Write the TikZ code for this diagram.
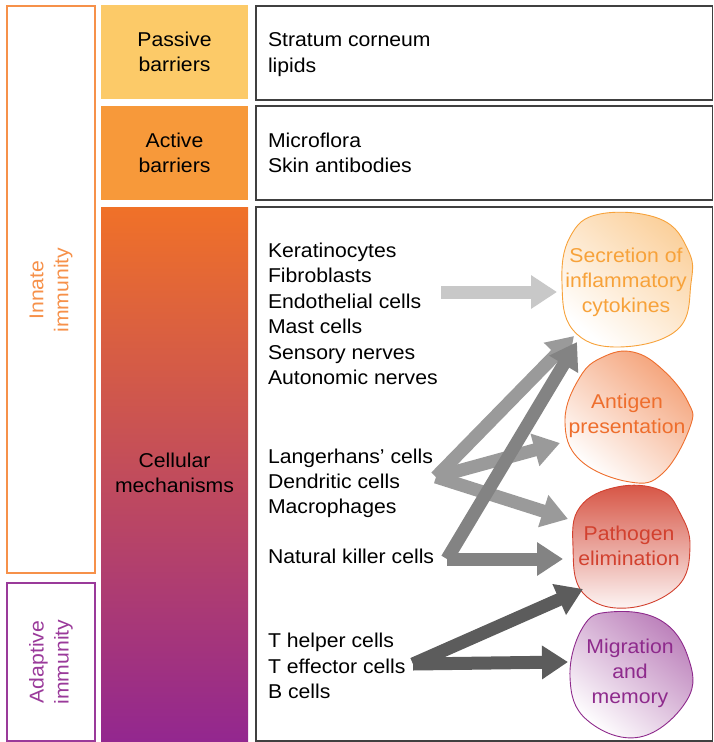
\documentclass[tikz,border=0pt]{standalone}
\usepackage{fontspec}
\setmainfont{Liberation Sans}[FakeStretch=1.06]
\usepackage{tikz}
\usetikzlibrary{arrows.meta}

\definecolor{passive}{HTML}{FCCA68}
\definecolor{active}{HTML}{F7993A}
\definecolor{celltop}{HTML}{F07128}
\definecolor{cellmid}{HTML}{C5506B}
\definecolor{cellbot}{HTML}{93278F}
\definecolor{innate}{HTML}{F6914A}
\definecolor{adaptive}{HTML}{9A3A9A}
\definecolor{secr}{HTML}{F7A23A}
\definecolor{anti}{HTML}{EE6E2D}
\definecolor{patho}{HTML}{D2412F}
\definecolor{migr}{HTML}{8E2A8C}
\definecolor{arrowA}{HTML}{C8C8C8}
\definecolor{arrowB}{HTML}{9A9A9A}
\definecolor{arrowC}{HTML}{838383}
\definecolor{arrowD}{HTML}{5C5C5C}

\begin{document}
\begin{tikzpicture}[x=1pt, y=-1pt,
  every node/.style={font=\fontsize{20}{25}\selectfont, inner sep=0pt, outer sep=0pt},
  item/.style={anchor=base west},
  blobtext/.style={align=center},
  itembox/.style={draw=black!75, line width=1.3pt},
  fatarrow/.style={line width=13pt, -{Triangle[length=26pt,width=32pt]}}]
\useasboundingbox (0,0) rectangle (714,742);

% left column
\draw[innate, line width=1.3pt] (7,6) rectangle (95,573);
\draw[adaptive, line width=1.3pt] (7,583) rectangle (95,741);
\node[rotate=90, align=center, text=innate] (inn) at (51,290) {Innate\\immunity};
\node[rotate=90, align=center, text=adaptive] (adp) at (51,662) {Adaptive\\immunity};

% middle column
\node[fill=passive, minimum width=147pt, minimum height=94pt, align=center] (pas) at (174.5,52) {Passive\\barriers};
\node[fill=active, minimum width=147pt, minimum height=94pt, align=center] (act) at (174.5,153) {Active\\barriers};
\shade[top color=celltop, middle color=cellmid, bottom color=cellbot] (101,207) rectangle (248,741);
\node[align=center] (cel) at (174.5,473) {Cellular\\mechanisms};

% right column
\draw[itembox] (256,6) rectangle (712.5,100);
\draw[itembox] (256,106) rectangle (712.5,200);
\draw[itembox] (256,207) rectangle (712.5,741);

\node[item] (strat) at (268,46) {Stratum corneum};
\node[item] (lip) at (268,72) {lipids};
\node[item] (micro) at (268,147) {Microflora};
\node[item] (skin) at (268,172) {Skin antibodies};

\node[item] (ker) at (268,257) {Keratinocytes};
\node[item] (fib) at (268,282.5) {Fibroblasts};
\node[item] (endo) at (268,308) {Endothelial cells};
\node[item] (mast) at (268,333.5) {Mast cells};
\node[item] (sens) at (268,359) {Sensory nerves};
\node[item] (auto) at (268,384.5) {Autonomic nerves};

\node[item] (lan) at (268,463) {Langerhans’ cells};
\node[item] (den) at (268,488) {Dendritic cells};
\node[item] (mac) at (268,513) {Macrophages};
\node[item] (nk) at (268,563) {Natural killer cells};

\node[item] (th) at (268,647) {T helper cells};
\node[item] (te) at (268,673) {T effector cells};
\node[item] (bc) at (268,698) {B cells};

% outcomes
\shade[draw=secr, line width=0.9pt, top color=secr!50, bottom color=white, shading angle=-40]
  plot[smooth cycle, tension=0.7] coordinates {(600,214) (660,219) (688,250) (691,283) (677,330) (617,347) (573,330) (562,283) (570,237)};
\shade[draw=anti, line width=0.9pt, top color=anti!65, bottom color=white, shading angle=-40]
  plot[smooth cycle, tension=0.7] coordinates {(633,352) (663,370) (688,402) (690,427) (663,473) (630,482) (580,460) (565,420) (580,377) (603,357)};
\shade[draw=patho, line width=0.9pt, top color=patho!90, bottom color=patho!5]
  plot[smooth cycle, tension=0.7] coordinates {(617,487) (660,490) (680,513) (690,547) (677,587) (627,608) (583,593) (573,547) (580,507)};
\shade[draw=migr, line width=0.9pt, top color=migr!60, bottom color=white, shading angle=-40]
  plot[smooth cycle, tension=0.7] coordinates {(610,612) (660,620) (688,657) (687,700) (640,737) (587,720) (570,677) (583,627)};

\node[blobtext, text=secr] (secr) at (626,282) {Secretion of\\inflammatory\\cytokines};
\node[blobtext, text=anti] (anti) at (627,416) {Antigen\\presentation};
\node[blobtext, text=patho] (patho) at (629,546) {Pathogen\\elimination};
\node[blobtext, text=migr] (migr) at (630,673) {Migration\\and\\memory};

% arrows
\coordinate (kerOut) at (441,292);
\coordinate (secrIn) at (557,292);
\coordinate (lanOut) at (436,477);
\coordinate (secrTipB) at (574,336);
\coordinate (antiIn) at (560,443);
\coordinate (pathInB) at (568,519);
\coordinate (nkOut) at (447,559);
\coordinate (secrTipC) at (577,342);
\coordinate (pathInC) at (563,559);
\coordinate (tOut) at (413,664);
\coordinate (pathInD) at (583,589);
\coordinate (migrIn) at (568,662);

\draw[fatarrow, arrowA] (kerOut) -- (secrIn);
\draw[fatarrow, arrowB] (lanOut) -- (secrTipB);
\draw[fatarrow, arrowB] (lanOut) -- (antiIn);
\draw[fatarrow, arrowB] (lanOut) -- (pathInB);
\draw[fatarrow, arrowC] (nkOut) -- (secrTipC);
\draw[fatarrow, arrowC] (nkOut) -- (pathInC);
\draw[fatarrow, arrowD] (tOut) -- (pathInD);
\draw[fatarrow, arrowD] (tOut) -- (migrIn);
\end{tikzpicture}
\end{document}
